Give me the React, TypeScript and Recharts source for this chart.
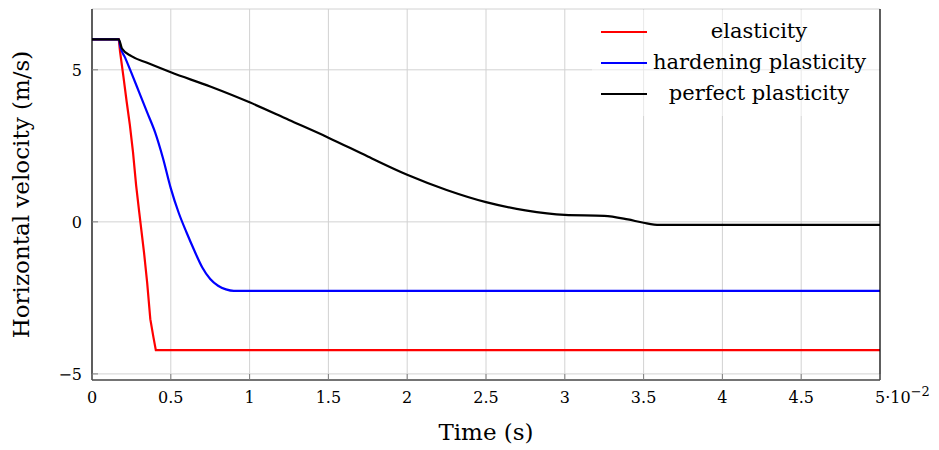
import React from "react";
import { LineChart, Line, XAxis, YAxis, CartesianGrid, Label } from "recharts";

// time is in units of 10^-2 s
const elasticityTime = [0, 0.17, 0.178, 0.2, 0.22, 0.24, 0.26, 0.28, 0.3, 0.33, 0.35, 0.37, 0.39, 0.405, 5];
const elasticityVelocity = [6, 6, 5.6, 4.75, 3.95, 3.2, 2.3, 1.2, 0.3, -1.0, -2.0, -3.2, -3.8, -4.22, -4.22];

const hardeningTime = [0, 0.17, 0.18, 0.21, 0.25, 0.3, 0.35, 0.4, 0.45, 0.5, 0.55, 0.6, 0.65, 0.7, 0.75, 0.8, 0.85, 0.9, 5];
const hardeningVelocity = [6, 6, 5.75, 5.4, 4.9, 4.25, 3.6, 2.95, 2.1, 1.1, 0.3, -0.35, -0.95, -1.5, -1.88, -2.1, -2.22, -2.27, -2.27];

const perfectTime = [0, 0.17, 0.19, 0.25, 0.35, 0.5, 0.75, 1.0, 1.25, 1.5, 1.75, 2.0, 2.25, 2.5, 2.75, 3.0, 3.25, 3.4, 3.5, 3.6, 5];
const perfectVelocity = [6, 6, 5.7, 5.45, 5.23, 4.92, 4.45, 3.93, 3.35, 2.77, 2.15, 1.55, 1.05, 0.65, 0.38, 0.23, 0.2, 0.08, -0.03, -0.1, -0.1];

const xTicks = [0, 0.5, 1, 1.5, 2, 2.5, 3, 3.5, 4, 4.5, 5];
const xTickLabels = ["0", "0.5", "1", "1.5", "2", "2.5", "3", "3.5", "4", "4.5", "5·10"];
const xScaleExponent = "−2";
const yTicks = [-5, 0, 5];
const yTickLabels = ["−5", "0", "5"];

const zip = (t: number[], v: number[]) => t.map((time, i) => ({ t: time, v: v[i] }));

const series = [
  { name: "elasticity", color: "#ff0000", data: zip(elasticityTime, elasticityVelocity), type: "linear" },
  { name: "hardening plasticity", color: "#0000ff", data: zip(hardeningTime, hardeningVelocity), type: "monotone" },
  { name: "perfect plasticity", color: "#000000", data: zip(perfectTime, perfectVelocity), type: "monotone" },
];

const FONT = '"DejaVu Serif", serif';
const TICK_LEN = 6;
const TICK_COLOR = "#7f7f7f";
const X_MARGIN = 8;
const Y_MARGIN = 10;

function BottomTick(props: any) {
  const { x, y, payload, index } = props;
  const axisY = y - X_MARGIN;
  const last = index === xTicks.length - 1;
  const label = xTickLabels[xTicks.indexOf(payload.value)] ?? String(payload.value);
  return (
    <g>
      <line x1={x} x2={x} y1={axisY} y2={axisY - TICK_LEN} stroke={TICK_COLOR} />
      {last ? (
        <text x={x - 5} y={axisY + 23} textAnchor="start" fontFamily={FONT} fontSize={16} fill="#000">
          {label}
          <tspan dy={-7} fontSize={13}>{xScaleExponent}</tspan>
        </text>
      ) : (
        <text x={x} y={axisY + 23} textAnchor="middle" fontFamily={FONT} fontSize={16} fill="#000">
          {label}
        </text>
      )}
    </g>
  );
}

function TopTick(props: any) {
  const { x, y } = props;
  return <line x1={x} x2={x} y1={y} y2={y + TICK_LEN} stroke={TICK_COLOR} />;
}

function LeftTick(props: any) {
  const { x, y, payload } = props;
  const axisX = x + Y_MARGIN;
  const label = yTickLabels[yTicks.indexOf(payload.value)] ?? String(payload.value);
  return (
    <g>
      <line x1={axisX} x2={axisX + TICK_LEN} y1={y} y2={y} stroke={TICK_COLOR} />
      <text x={x} y={y} dy="0.36em" textAnchor="end" fontFamily={FONT} fontSize={16} fill="#000">
        {label}
      </text>
    </g>
  );
}

function RightTick(props: any) {
  const { x, y } = props;
  return <line x1={x} x2={x - TICK_LEN} y1={y} y2={y} stroke={TICK_COLOR} />;
}

function LegendBox() {
  return (
    <div
      style={{
        position: "absolute",
        left: 592,
        top: 10,
        width: 287,
        background: "rgba(255,255,255,0.5)",
        padding: "6px 0 7px 9px",
        boxSizing: "border-box",
        fontFamily: FONT,
        fontSize: 21,
        color: "#000",
      }}
    >
      {series.map((s) => (
        <div key={s.name} style={{ display: "flex", alignItems: "center", height: 31 }}>
          <svg width={46} height={4} style={{ display: "block" }}>
            <line x1={0} x2={46} y1={2} y2={2} stroke={s.color} strokeWidth={2.2} />
          </svg>
          <div style={{ width: 212, marginLeft: 6, textAlign: "center", whiteSpace: "nowrap", lineHeight: "31px" }}>
            {s.name}
          </div>
        </div>
      ))}
    </div>
  );
}

export default function App() {
  return (
    <div style={{ position: "absolute", left: 0, top: 0, width: 939, height: 450, background: "#fff" }}>
      <LineChart width={939} height={450} margin={{ top: 9, right: 0, bottom: 0, left: 0 }}>
        <CartesianGrid xAxisId="bottom" yAxisId="left" stroke="#d2d2d2" strokeWidth={1} />
        <XAxis
          xAxisId="bottom"
          type="number"
          dataKey="t"
          domain={[0, 5]}
          ticks={xTicks}
          height={70}
          tickSize={0}
          tickMargin={X_MARGIN}
          tickLine={false}
          axisLine={{ stroke: "#000", strokeWidth: 1.2 }}
          tick={(p: any) => <BottomTick {...p} />}
        >
          <Label value="Time (s)" position="insideBottom" offset={10} fontSize={23} fontFamily={FONT} fill="#000" />
        </XAxis>
        <XAxis
          xAxisId="top"
          orientation="top"
          type="number"
          dataKey="t"
          domain={[0, 5]}
          ticks={xTicks}
          height={0}
          tickSize={0}
          tickMargin={0}
          tickLine={false}
          axisLine={{ stroke: "#000", strokeWidth: 1.2 }}
          tick={(p: any) => <TopTick {...p} />}
        />
        <YAxis
          yAxisId="left"
          type="number"
          domain={[-5.2, 7]}
          ticks={yTicks}
          width={92}
          tickSize={0}
          tickMargin={Y_MARGIN}
          tickLine={false}
          axisLine={{ stroke: "#000", strokeWidth: 1.2 }}
          tick={(p: any) => <LeftTick {...p} />}
        >
          <Label
            value="Horizontal velocity (m/s)"
            angle={-90}
            position="insideLeft"
            offset={21}
            fontSize={23}
            fontFamily={FONT}
            fill="#000"
            style={{ textAnchor: "middle" }}
          />
        </YAxis>
        <YAxis
          yAxisId="right"
          orientation="right"
          type="number"
          domain={[-5.2, 7]}
          ticks={yTicks}
          width={59}
          tickSize={0}
          tickMargin={0}
          tickLine={false}
          axisLine={{ stroke: "#000", strokeWidth: 1.2 }}
          tick={(p: any) => <RightTick {...p} />}
        />
        {series.map((s) => (
          <Line
            key={s.name}
            xAxisId="bottom"
            yAxisId="left"
            data={s.data}
            dataKey="v"
            name={s.name}
            type={s.type as any}
            stroke={s.color}
            strokeWidth={2.2}
            dot={false}
            activeDot={false}
            isAnimationActive={false}
          />
        ))}
      </LineChart>
      <LegendBox />
    </div>
  );
}
